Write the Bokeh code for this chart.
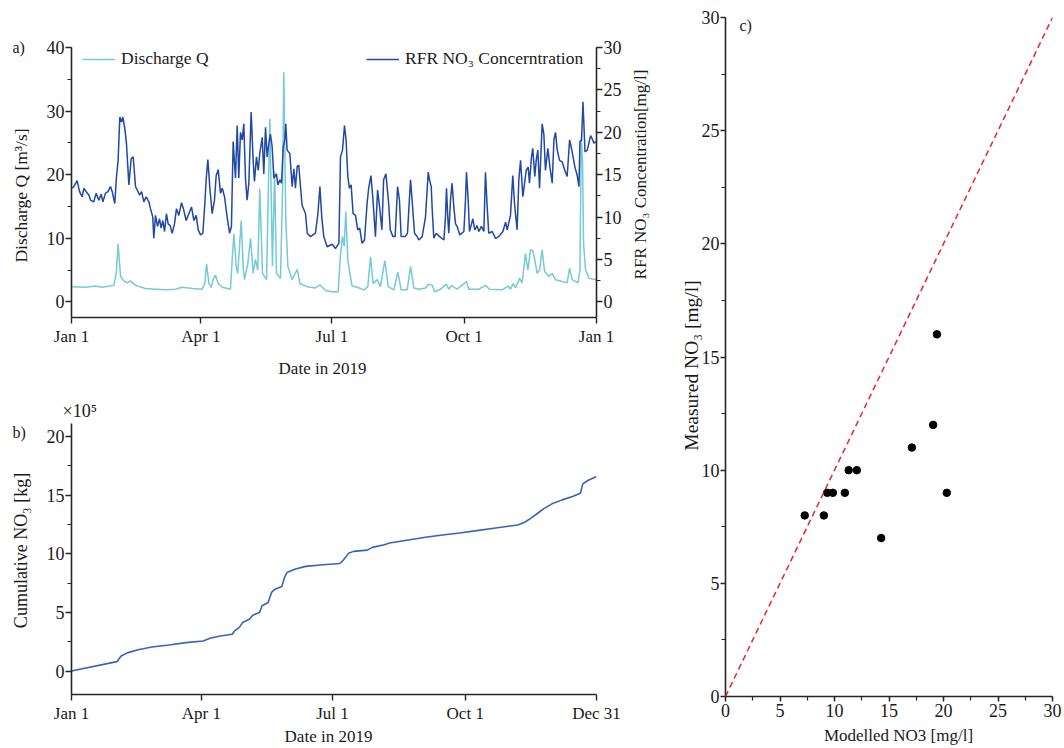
import math
from bokeh.plotting import figure
from bokeh.models import (Range1d, LinearAxis, FixedTicker, SingleIntervalTicker,
                          Legend, LegendItem, Label, Slope)
from bokeh.layouts import row, column
from bokeh.embed import file_html
from bokeh.resources import INLINE

# ---------------- data ----------------
# Panel a: discharge Q [m3/s] (day of year 2019)
q_day = [0.5, 9.7, 16.7, 21.3, 29.4, 31.1, 32.4, 34.1, 36.4, 38.7, 41.0, 44.5, 51.4, 58.4, 65.4,
         72.3, 76.9, 83.9, 90.8, 92.7, 93.9, 95.5, 97.1, 98.5, 100.1, 102.0, 104.8, 110.5, 111.7,
         112.9, 114.5, 115.6, 118.0, 119.5, 120.3, 122.6, 124.5, 126.3, 127.9, 129.5, 130.9, 132.8,
         135.6, 137.9, 139.7, 141.2, 142.5, 145.3, 146.7, 147.6, 149.0, 150.4, 153.4, 156.9, 158.8,
         163.9, 169.6, 172.7, 176.6, 181.2, 185.4, 187.0, 188.4, 189.6, 190.7, 192.1, 193.5, 195.1,
         198.6, 203.3, 206.0, 207.9, 209.7, 212.5, 214.8, 217.8, 220.2, 224.1, 226.9, 229.2, 233.4,
         235.7, 238.0, 241.5, 246.1, 248.4, 250.8, 252.6, 256.5, 260.7, 262.3, 264.2, 268.1, 274.6,
         276.2, 283.2, 287.8, 290.6, 299.4, 303.6, 305.2, 307.1, 308.7, 311.5, 313.3, 315.6, 317.3,
         319.1, 320.7, 322.1, 323.7, 325.4, 327.2, 328.9, 331.9, 334.2, 336.5, 341.2, 344.6, 346.3,
         348.1, 352.1, 353.5, 354.4, 355.3, 356.0, 357.4, 359.8, 365.0]
q_val = [2.4, 2.3, 2.5, 2.3, 2.6, 4.5, 9.1, 4.0, 3.3, 3.0, 3.3, 2.6, 2.1, 2.0, 1.9,
         2.0, 2.3, 2.1, 2.0, 2.9, 6.0, 2.9, 2.3, 3.5, 4.2, 2.9, 2.3, 2.0, 6.6,
         10.7, 5.5, 4.5, 12.8, 5.0, 3.5, 6.1, 10.0, 4.5, 6.7, 5.0, 17.8, 4.5,
         3.5, 28.8, 5.6, 20.5, 4.5, 3.7, 17.0, 36.1, 12.9, 5.6, 3.5, 5.1, 2.9,
         2.4, 2.2, 2.7, 1.8, 1.6, 1.6, 7.4, 10.3, 8.7, 14.2, 6.6, 4.5, 2.5,
         2.3, 1.9, 2.4, 7.1, 2.9, 3.5, 2.4, 6.5, 2.4, 1.9, 4.7, 1.9, 1.9,
         5.6, 2.2, 2.0, 2.2, 2.8, 2.6, 1.6, 2.0, 2.8, 2.0, 2.6, 2.0, 3.2,
         2.0, 2.0, 2.6, 2.0, 1.9, 2.5, 2.0, 2.9, 2.2, 3.7, 3.0, 7.6, 5.0,
         8.2, 8.1, 6.6, 4.5, 5.0, 8.2, 4.8, 4.0, 4.5, 3.5, 3.2, 3.0, 5.3,
         3.5, 3.0, 5.0, 25.9, 22.0, 9.2, 5.0, 3.7, 3.5]

# Panel a: RFR NO3 concentration [mg/l]
no3_day = [0.5, 1.6, 3.9, 5.6, 7.4, 8.6, 10.2, 12.1, 13.2, 15.5, 17.1, 19.0, 20.6, 21.8, 23.6,
           25.3, 27.1, 28.3, 30.1, 31.1, 32.4, 33.6, 34.8, 35.7, 37.1, 38.2, 39.9, 41.5, 42.9,
           44.5, 45.7, 47.3, 48.7, 50.3, 51.9, 53.8, 54.9, 56.5, 57.2, 58.4, 59.8, 61.2, 62.3,
           63.5, 64.7, 66.0, 67.2, 68.6, 70.0, 71.6, 73.0, 74.6, 76.5, 78.1, 79.7, 81.6, 83.4,
           85.1, 86.7, 88.1, 89.7, 91.3, 92.7, 93.6, 94.8, 96.2, 97.8, 99.4, 100.6, 102.0, 103.6,
           104.8, 106.4, 108.2, 109.9, 111.2, 112.4, 114.0, 115.2, 116.3, 117.5, 118.7, 119.8,
           121.0, 122.1, 123.3, 124.9, 126.3, 127.2, 128.6, 129.8, 130.9, 132.6, 133.7, 134.9,
           136.0, 137.2, 138.3, 139.5, 140.7, 142.5, 143.5, 144.9, 146.0, 147.2, 148.3, 149.0,
           149.9, 151.8, 153.4, 154.6, 155.7, 156.9, 158.0, 159.2, 160.3, 162.7, 163.9, 166.2,
           169.6, 171.3, 172.7, 174.0, 175.4, 177.7, 181.2, 183.5, 185.9, 187.0, 188.4, 189.8,
           190.9, 192.1, 193.2, 194.4, 195.8, 197.4, 199.0, 200.4, 202.0, 203.7, 205.5, 206.6,
           208.2, 209.6, 211.3, 212.8, 214.2, 215.8, 217.0, 218.6, 220.5, 221.6, 223.5, 225.0,
           226.7, 228.0, 229.2, 232.0, 233.6, 235.7, 236.8, 238.5, 240.3, 241.5, 243.8, 246.1,
           248.0, 248.9, 250.1, 250.8, 251.9, 253.5, 255.9, 258.9, 260.0, 260.7, 261.6, 262.3,
           263.5, 264.6, 265.8, 267.0, 268.1, 270.0, 272.8, 273.9, 274.6, 275.8, 276.7, 278.1,
           279.0, 280.4, 282.0, 283.2, 285.0, 286.7, 287.8, 289.0, 290.1, 292.5, 294.8, 297.1,
           299.9, 301.8, 302.9, 305.2, 306.8, 308.0, 309.8, 311.0, 312.2, 313.8, 315.0, 316.1,
           317.5, 318.4, 319.8, 320.7, 322.1, 323.1, 324.2, 325.4, 327.2, 328.4, 329.5, 331.2,
           332.6, 334.2, 335.4, 336.5, 337.7, 339.3, 341.2, 343.0, 344.6, 346.3, 348.1, 350.0,
           351.6, 352.8, 353.5, 354.6, 355.6, 357.0, 358.6, 360.9, 362.1, 363.2, 364.4]
no3_val = [13.4, 13.6, 14.3, 13.0, 12.4, 13.4, 13.0, 12.6, 12.0, 11.8, 12.8, 12.0, 12.7, 11.8, 12.8,
           13.0, 13.6, 13.0, 11.6, 14.4, 16.7, 21.8, 21.2, 21.8, 20.4, 18.7, 13.8, 16.9, 17.1,
           13.6, 13.2, 12.6, 13.0, 11.8, 12.4, 11.8, 11.0, 10.0, 7.5, 10.2, 8.9, 9.8, 8.7,
           9.6, 8.3, 10.4, 9.2, 9.0, 8.1, 9.2, 11.0, 10.2, 11.7, 10.8, 9.6, 10.4, 11.2,
           9.6, 10.2, 8.5, 7.9, 8.1, 11.6, 14.4, 16.8, 13.4, 10.4, 12.0, 14.9, 15.6, 12.8,
           13.4, 12.4, 10.0, 8.1, 8.9, 18.9, 14.6, 20.8, 14.6, 20.0, 19.1, 21.0,
           14.4, 12.0, 14.0, 22.4, 16.7, 14.2, 17.1, 15.5, 17.5, 19.4, 15.1, 20.6,
           17.1, 18.7, 19.8, 18.3, 14.6, 15.1, 13.8, 14.4, 14.0, 18.3, 19.1, 21.0,
           17.9, 17.5, 13.6, 15.7, 13.4, 16.0, 16.1, 13.6, 11.4, 10.4, 8.1, 7.7,
           8.1, 10.4, 13.6, 10.0, 7.7, 6.5, 6.8, 6.3, 6.9, 17.1, 17.9, 20.8,
           19.1, 14.8, 13.4, 13.8, 10.4, 10.2, 8.5, 8.7, 6.9, 7.3, 11.6, 13.4,
           14.9, 12.0, 7.7, 13.2, 11.2, 8.5, 14.4, 15.1, 11.6, 8.5, 7.7, 7.7,
           13.6, 12.0, 7.7, 7.7, 8.1, 14.4, 12.0, 8.1, 7.7, 7.3, 7.7, 10.0,
           15.3, 14.4, 13.6, 10.8, 7.5, 8.1, 7.7, 7.3, 10.0, 13.4, 10.0, 8.1,
           12.0, 14.0, 11.2, 9.2, 8.9, 7.9, 8.3, 12.0, 15.3, 12.0, 8.3, 9.2,
           9.8, 8.5, 9.0, 8.3, 8.9, 8.3, 15.3, 11.2, 8.1, 8.3, 7.5, 7.7,
           8.3, 9.4, 8.5, 10.2, 14.9, 11.6, 8.5, 14.4, 16.7, 12.4, 14.0, 15.5,
           15.9, 14.0, 17.1, 18.1, 14.8, 16.7, 17.9, 13.4, 21.0, 19.8, 15.5, 18.1,
           15.9, 14.0, 19.1, 20.0, 17.9, 16.7, 16.5, 15.5, 14.8, 19.1, 17.7, 15.9,
           14.9, 13.6, 18.9, 19.1, 23.6, 17.7, 17.9, 19.6, 19.2, 18.7, 18.9]

# Panel b: cumulative NO3 load [x10^5 kg]
cum_day = [0, 31.5, 34.4, 39.1, 46.2, 55.7, 67.6, 79.4, 91.3, 96.0, 103.1, 111.4, 113.1, 116.2,
           118.6, 123.3, 125.7, 130.4, 132.1, 136.3, 138.7, 141.1, 145.8, 147.7, 149.4, 155.3,
           162.4, 174.3, 186.1, 188.5, 192.1, 195.6, 205.1, 208.6, 216.9, 220.5, 233.5, 245.4,
           257.3, 269.1, 281.0, 292.8, 309.4, 314.2, 318.9, 323.2, 327.2, 333.1, 340.2, 347.4,
           352.8, 354.5, 358.0, 364.0]
cum_val = [0, 0.80, 1.28, 1.57, 1.82, 2.05, 2.22, 2.42, 2.56, 2.79, 2.99, 3.13, 3.42, 3.70,
           4.13, 4.42, 4.76, 4.99, 5.56, 5.84, 6.70, 6.98, 7.21, 7.98, 8.40, 8.69,
           8.92, 9.06, 9.17, 9.46, 10.03, 10.20, 10.31, 10.54, 10.77, 10.91, 11.17, 11.40,
           11.60, 11.77, 11.97, 12.17, 12.45, 12.68, 13.05, 13.45, 13.82, 14.25, 14.59, 14.87,
           15.16, 15.95, 16.24, 16.58]

# Panel c: modelled vs measured NO3 [mg/l]
modelled_no3 = [7.27, 9.02, 9.33, 9.85, 10.95, 11.3, 12.05, 14.28, 17.1, 19.05, 20.3, 19.4]
measured_no3 = [8, 8, 9, 9, 9, 10, 10, 7, 11, 12, 9, 16]

# tick labels
a_ticks = [0, 90, 181, 273, 365]
a_tick_labels = ["Jan 1", "Apr 1", "Jul 1", "Oct 1", "Jan 1"]
b_ticks = [0, 90, 181, 273, 364]
b_tick_labels = ["Jan 1", "Apr 1", "Jul 1", "Oct 1", "Dec 31"]

# ---------------- style ----------------
FONT = "Liberation Serif"
TXT = "#1a1a1a"
AX = "#262626"
CYAN = "#74CAD6"
NAVY = "#2148A3"
CUMBLUE = "#3863BC"


def style_axis(ax, tick_out=6, standoff=2, size="17px"):
    ax.axis_line_color = AX
    ax.axis_line_width = 1.6
    ax.major_tick_line_color = AX
    ax.major_tick_line_width = 1.4
    ax.minor_tick_line_color = AX
    ax.minor_tick_line_width = 1.2
    ax.major_tick_out = tick_out
    ax.major_tick_in = 0
    ax.minor_tick_out = 4
    ax.minor_tick_in = 0
    ax.major_label_text_font = FONT
    ax.major_label_text_font_size = size
    ax.major_label_text_color = TXT
    ax.major_label_standoff = standoff
    ax.axis_label = None


def base(p):
    p.xgrid.visible = False
    p.ygrid.visible = False
    p.outline_line_color = None
    p.background_fill_color = "white"
    p.border_fill_color = "white"


def side_label(p, side, text, x, y, angle=0.0, size="17px", align="center"):
    # x, y in canvas pixels of this figure (y from top)
    p.add_layout(Label(x=x, y=y, x_units="canvas", y_units="canvas", text=text,
                       angle=angle, text_align=align, text_baseline="middle",
                       text_font=FONT, text_font_size=size, text_color=TXT), side)


# ---------------- panel a ----------------
pa = figure(width=660, height=380, x_range=Range1d(0, 365), y_range=Range1d(-2.45, 40),
            output_backend="svg", toolbar_location=None, title=None,
            min_border_left=71, min_border_right=64, min_border_top=47, min_border_bottom=63)
base(pa)
pa.extra_y_ranges = {"no3": Range1d(-2.45 * 0.75, 30)}
pa.add_layout(LinearAxis(y_range_name="no3"), "right")

rq = pa.line(q_day, q_val, line_color=CYAN, line_width=1.5)
rn = pa.line(no3_day, no3_val, line_color=NAVY, line_width=1.5, y_range_name="no3")

pa.xaxis.ticker = FixedTicker(ticks=a_ticks, minor_ticks=[])
pa.xaxis.major_label_overrides = dict(zip(a_ticks, a_tick_labels))
for ax in pa.xaxis:
    style_axis(ax, 6, 3)
pa.yaxis[0].ticker = SingleIntervalTicker(interval=10, num_minor_ticks=2)
style_axis(pa.yaxis[0], 6, 1, "18px")
pa.yaxis[1].ticker = SingleIntervalTicker(interval=5, num_minor_ticks=2)
style_axis(pa.yaxis[1], 6, 1, "18px")

for items, loc in ((["Discharge Q", rq], (11, 248)), (["RFR NO\u2083 Concerntration", rn], (295, 248))):
    leg = Legend(items=[LegendItem(label=items[0], renderers=[items[1]])], location=loc,
                 border_line_color=None, background_fill_alpha=0, padding=0, margin=0,
                 spacing=0, glyph_width=33, glyph_height=20, label_height=20, label_standoff=6,
                 label_text_font=FONT, label_text_font_size="17.5px", label_text_color=TXT)
    pa.add_layout(leg)

side_label(pa, "left", "a)", 12, 47, align="left", size="16px")
side_label(pa, "left", "Discharge Q [m\u00b3/s]", 20, 195, angle=math.pi / 2, size="17.5px")
side_label(pa, "right", "RFR NO\u2083 Concentration[mg/l]", 640, 174, angle=math.pi / 2)
side_label(pa, "below", "Date in 2019", 322, 368)

# ---------------- panel b ----------------
pb = figure(width=660, height=367, x_range=Range1d(0, 364), y_range=Range1d(-2, 21.1),
            output_backend="svg", toolbar_location=None, title=None,
            min_border_left=71, min_border_right=64, min_border_top=43, min_border_bottom=53)
base(pb)
pb.line(cum_day, cum_val, line_color=CUMBLUE, line_width=1.6)
pb.xaxis.ticker = FixedTicker(ticks=b_ticks, minor_ticks=[])
pb.xaxis.major_label_overrides = dict(zip(b_ticks, b_tick_labels))
style_axis(pb.xaxis[0], 6, 3)
pb.yaxis.ticker = SingleIntervalTicker(interval=5, num_minor_ticks=2)
style_axis(pb.yaxis[0], 6, 1, "18px")

side_label(pb, "left", "b)", 12, 52, align="left", size="16px")
side_label(pb, "above", "\u00d710\u2075", 62, 30, align="left", size="18px")
side_label(pb, "left", "Cumulative NO\u2083 [kg]", 20, 170, angle=math.pi / 2, size="18px")
side_label(pb, "below", "Date in 2019", 328, 356)

# ---------------- panel c ----------------
pc = figure(width=402, height=747, x_range=Range1d(0, 30), y_range=Range1d(0, 30),
            output_backend="svg", toolbar_location=None, title=None,
            min_border_left=65, min_border_right=10, min_border_top=17, min_border_bottom=51)
base(pc)
pc.add_layout(Slope(gradient=1, y_intercept=0, line_color="#E8262B", line_dash="6 4",
                    line_width=1.5))
pc.scatter(modelled_no3, measured_no3, size=7.5, color="black")
pc.xaxis.ticker = SingleIntervalTicker(interval=5, num_minor_ticks=2)
pc.yaxis.ticker = SingleIntervalTicker(interval=5, num_minor_ticks=2)
style_axis(pc.xaxis[0], 5, 2, "18px")
style_axis(pc.yaxis[0], 5, 1, "18px")

pc.add_layout(Label(x=14, y=671, x_units="screen", y_units="screen", text="c)",
                    text_align="left", text_baseline="middle", text_font=FONT,
                    text_font_size="16px", text_color=TXT))
side_label(pc, "left", "Measured NO\u2083 [mg/l]", 31, 365, angle=math.pi / 2, size="19.5px")
side_label(pc, "below", "Modelled NO3 [mg/l]", 238, 735)

layout = row(column(pa, pb), pc)
with open("out.html", "w", encoding="utf-8") as f:
    f.write(file_html(layout, INLINE))
